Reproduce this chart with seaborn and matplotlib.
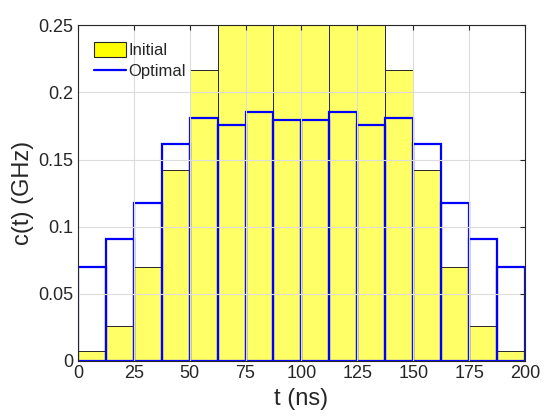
import pandas as pd
import matplotlib
matplotlib.use('Agg')
import matplotlib.pyplot as plt
import seaborn as sns
from matplotlib.patches import Patch
from matplotlib.lines import Line2D

# bin edges (ns) and values (GHz)
edges = [0, 12.5, 25, 37.5, 50, 62.5, 75, 87.5, 100,
         112.5, 125, 137.5, 150, 162.5, 175, 187.5, 200]
initial = [0.0074, 0.026, 0.0697, 0.142, 0.217, 0.27, 0.30, 0.32,
           0.32, 0.30, 0.27, 0.217, 0.142, 0.0697, 0.026, 0.0074]
optimal = [0.0702, 0.091, 0.1178, 0.1617, 0.181, 0.1756, 0.1855, 0.1793,
           0.1793, 0.1855, 0.1756, 0.181, 0.1617, 0.1178, 0.091, 0.0702]
xticks = [0, 25, 50, 75, 100, 125, 150, 175, 200]
yticks = [0, 0.05, 0.1, 0.15, 0.2, 0.25]
yticklabels = ['0', '0.05', '0.1', '0.15', '0.2', '0.25']

centers = [(a + b) / 2 for a, b in zip(edges[:-1], edges[1:])]
df = pd.DataFrame({'t': centers, 'initial': initial, 'optimal': optimal})

sns.set_style('white')
plt.rcParams['font.family'] = ['Liberation Sans', 'DejaVu Sans']
dark = '#262626'

fig = plt.figure(figsize=(5.6, 4.2), dpi=100)
ax = fig.add_axes([0.139, 0.1405, 0.7985, 0.7995])

sns.histplot(data=df, x='t', weights='initial', bins=edges, ax=ax,
             color='yellow', alpha=0.6, edgecolor=dark, linewidth=0.7)
sns.histplot(data=df, x='t', weights='optimal', bins=edges, ax=ax,
             fill=False, color='blue', edgecolor='blue', linewidth=1.6)

ax.set_xlim(0, 200)
ax.set_ylim(0, 0.25)
ax.set_xticks(xticks)
ax.set_yticks(yticks)
ax.set_yticklabels(yticklabels)
ax.grid(True, color='#dcdcdc', linewidth=0.8)
ax.set_axisbelow(False)
for l in ax.get_xgridlines() + ax.get_ygridlines():
    l.set_zorder(0.5)

ax.tick_params(direction='in', length=3.5, width=0.8, colors=dark,
               labelsize=13, top=True, right=True, pad=3)
for s in ax.spines.values():
    s.set_color(dark)
    s.set_linewidth(0.8)
    s.set_zorder(5)

ax.set_xlabel('t (ns)', fontsize=17, color=dark, labelpad=4)
ax.set_ylabel('c(t) (GHz)', fontsize=17, color=dark, labelpad=3)

handles = [Patch(facecolor='yellow', edgecolor=dark, linewidth=0.8),
           Line2D([0], [0], color='blue', linewidth=1.6)]
ax.legend(handles, ['Initial', 'Optimal'], loc='upper left', frameon=False,
          fontsize=12, handlelength=1.9, handleheight=1.0, handletextpad=0.15,
          labelspacing=0.3, borderaxespad=0.0, borderpad=0.0,
          bbox_to_anchor=(0.036, 0.95))

plt.savefig('out.png', dpi=100)
